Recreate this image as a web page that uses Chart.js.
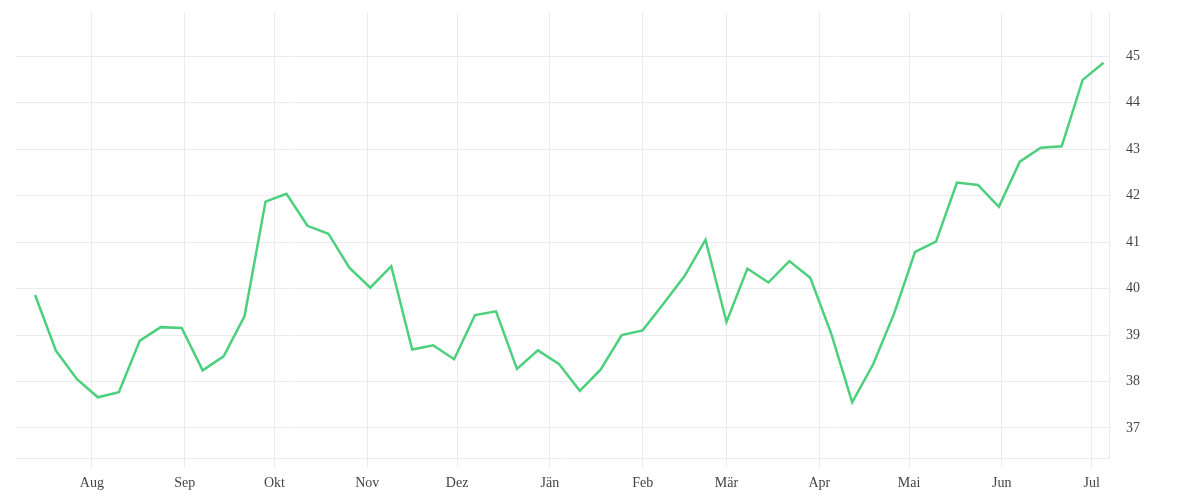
<!DOCTYPE html>
<html>
<head>
<meta charset="utf-8">
<title>Weekly chart</title>
<script src="https://cdn.jsdelivr.net/npm/chart.js@4/dist/chart.umd.min.js"></script>
<style>
  html, body { margin: 0; padding: 0; background: #fff; }
  #wrap { width: 1200px; height: 500px; }
</style>
</head>
<body>
<div id="wrap"><canvas id="lineChart"></canvas></div>
<script>
// first weekly observation (UTC), then one value per week
const startDate = [2018, 6, 13];
const weeklyValues = [
  39.86, 38.66, 38.05, 37.66, 37.77, 38.88, 39.17, 39.15, 38.24, 38.54,
  39.41, 41.87, 42.04, 41.35, 41.18, 40.45, 40.02, 40.48, 38.69, 38.78,
  38.48, 39.43, 39.51, 38.27, 38.67, 38.38, 37.80, 38.26, 39.00, 39.10,
  39.68, 40.27, 41.05, 39.28, 40.43, 40.13, 40.59, 40.23, 39.03, 37.55,
  38.37, 39.46, 40.79, 41.01, 42.28, 42.23, 41.76, 42.73, 43.03, 43.06,
  44.49, 44.86
];

// month ticks on the x axis (first of each month)
const monthLabels = ['Aug', 'Sep', 'Okt', 'Nov', 'Dez', 'Jän', 'Feb', 'Mär', 'Apr', 'Mai', 'Jun', 'Jul'];
const monthStarts = [
  [2018, 7, 1], [2018, 8, 1], [2018, 9, 1], [2018, 10, 1], [2018, 11, 1], [2019, 0, 1],
  [2019, 1, 1], [2019, 2, 1], [2019, 3, 1], [2019, 4, 1], [2019, 5, 1], [2019, 6, 1]
];
const yTicks = [37, 38, 39, 40, 41, 42, 43, 44, 45];

const DAY = 86400000;
const toDay = d => Date.UTC(d[0], d[1], d[2]) / DAY;
const day0 = toDay(startDate);

const points = weeklyValues.map((v, i) => ({ x: day0 + i * 7, y: v }));
const monthDays = monthStarts.map(toDay);

const gridColor = '#ececec';
const tickFont = { family: '"Liberation Serif", serif', size: 14 };

// labels never sit on the chart edges here, so drop the edge padding Chart.js reserves for them
const noEdgePadding = scale => {
  scale.paddingTop = 0;
  scale.paddingBottom = 0;
  scale.paddingLeft = 0;
  scale.paddingRight = 0;
};

new Chart(document.getElementById('lineChart').getContext('2d'), {
  type: 'line',
  data: {
    datasets: [{
      data: points,
      borderColor: '#4cd07d',
      backgroundColor: 'transparent',
      borderWidth: 2.5,
      pointRadius: 0,
      tension: 0,
      fill: false
    }]
  },
  options: {
    responsive: true,
    maintainAspectRatio: false,
    animation: false,
    layout: { padding: { left: 15, top: 12, right: 43, bottom: 1 } },
    plugins: {
      legend: { display: false },
      tooltip: { enabled: false }
    },
    scales: {
      x: {
        type: 'linear',
        min: day0 - 6.7,
        max: day0 + 358.8,
        afterBuildTicks: scale => {
          scale.ticks = monthDays.map(v => ({ value: v }));
        },
        afterFit: noEdgePadding,
        grid: { color: gridColor, tickLength: 10 },
        border: { color: gridColor },
        ticks: {
          autoSkip: false,
          maxRotation: 0,
          padding: 7,
          color: '#444',
          font: tickFont,
          callback: (value, index) => monthLabels[index]
        }
      },
      y: {
        position: 'right',
        min: 36.35,
        max: 45.95,
        afterBuildTicks: scale => {
          scale.ticks = yTicks.map(v => ({ value: v }));
        },
        afterFit: noEdgePadding,
        grid: { color: gridColor, drawTicks: false },
        border: { color: gridColor },
        ticks: {
          padding: 17,
          color: '#444',
          font: tickFont
        }
      }
    }
  }
});
</script>
</body>
</html>
